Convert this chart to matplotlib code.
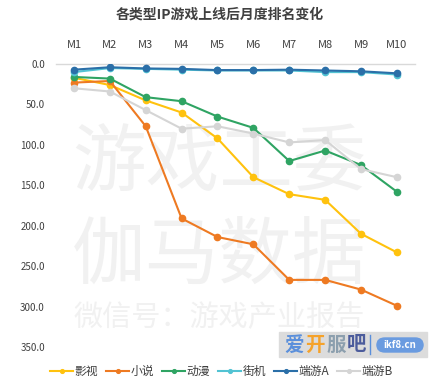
# 各类型IP游戏上线后月度排名变化 - line chart, rank axis inverted
import matplotlib.pyplot as plt
from matplotlib.patches import FancyBboxPatch, Rectangle

plt.rcParams['font.family'] = ['Noto Sans CJK SC', 'DejaVu Sans']

months = ["M1", "M2", "M3", "M4", "M5", "M6", "M7", "M8", "M9", "M10"]

film = [17, 26, 45, 60, 92, 140, 161, 168, 210, 233]
novel = [23, 21, 77, 191, 214, 223, 267, 267, 279, 299]
anime = [16, 18, 41, 46, 65, 79, 120, 107, 125, 158]
arcade = [10, 5, 6, 7, 8, 8, 8, 10, 10, 13]
client_a = [7, 4, 5.5, 6, 7.5, 7.5, 7, 8, 9, 11.5]
client_b = [30, 34, 57, 80, 77, 86, 97, 94, 130, 140]

series_names = ["影视", "小说", "动漫", "街机", "端游A", "端游B"]
series_values = [film, novel, anime, arcade, client_a, client_b]
colors = ["#FFC20E", "#EE7A22", "#2FA463", "#52C3D3", "#2B6FA8", "#D5D5D5"]

fig = plt.figure(figsize=(4.39, 3.92), dpi=100)
ax = fig.add_axes([0.1276, 0.1148, 0.8174, 0.7219])

# watermarks behind the data lines
wm = "#F1F1F1"
for txt, yy, fs in [("游戏工委", 0.580, 53), ("伽马数据", 0.345, 53),
                    ("微信号：游戏产业报告", 0.188, 21)]:
    ax.text(0.50, yy, txt, fontsize=fs, color=wm, ha="center", va="center",
            fontweight="light", transform=fig.transFigure, zorder=0, clip_on=False)

x = list(range(len(months)))
for name, vals, c in zip(series_names, series_values, colors):
    ax.plot(x, vals, color=c, lw=1.5, marker="o", ms=4.5, label=name, zorder=3)

ax.set_xlim(-0.5, len(months) - 0.5)
ax.set_ylim(350, 0)
ax.set_yticks([0, 50, 100, 150, 200, 250, 300, 350])
ax.set_yticklabels([f"{v:.1f}" for v in ax.get_yticks()])
ax.set_xticks(x)
ax.set_xticklabels(months)
ax.xaxis.tick_top()
ax.tick_params(axis="x", length=0, pad=10, labelsize=8, labelcolor="#404040")
ax.tick_params(axis="y", length=0, pad=8, labelsize=7, labelcolor="#404040")
for s in ["left", "right", "bottom"]:
    ax.spines[s].set_visible(False)
ax.spines["top"].set_color("#D9D9D9")
ax.spines["top"].set_linewidth(1)

fig.text(0.5, 0.962, "各类型IP游戏上线后月度排名变化", fontsize=10, fontweight="bold",
         color="#404040", ha="center", va="center")

ax.legend(loc="center", bbox_to_anchor=(0.505, 0.052), bbox_transform=fig.transFigure,
          ncol=6, frameon=False, fontsize=8.5, handlelength=1.9, handletextpad=0.15,
          columnspacing=0.7, markerscale=0.6, labelcolor="#404040")

# site logo box at bottom right
logo = Rectangle((279 / 439, 1 - 357 / 392), 148 / 439, 25 / 392,
                 transform=fig.transFigure, color="#DCDCDC", zorder=5)
fig.add_artist(logo)
for i, (ch, c) in enumerate(zip("爱开服吧", ["#5A8FDB", "#F5A22A", "#8C9FAE", "#4C5C9C"])):
    fig.text((284 + i * 21 + 10) / 439, 1 - 345 / 392, ch, fontsize=14, fontweight="bold",
             color=c, ha="center", va="center", zorder=6)
fig.add_artist(plt.Line2D([370 / 439, 370 / 439], [1 - 354 / 392, 1 - 335 / 392],
                          transform=fig.transFigure, color="#5A8FDB", lw=1, zorder=6))
pill = FancyBboxPatch((377 / 439, 1 - 352 / 392), 46 / 439, 14 / 392,
                      boxstyle="round,pad=0,rounding_size=0.018",
                      transform=fig.transFigure, color="#6A9BE0", zorder=6)
fig.add_artist(pill)
fig.text(400 / 439, 1 - 345 / 392, "ikf8.cn", fontsize=7, fontweight="bold",
         color="white", ha="center", va="center", zorder=7)

fig.savefig("out.png", dpi=100)
